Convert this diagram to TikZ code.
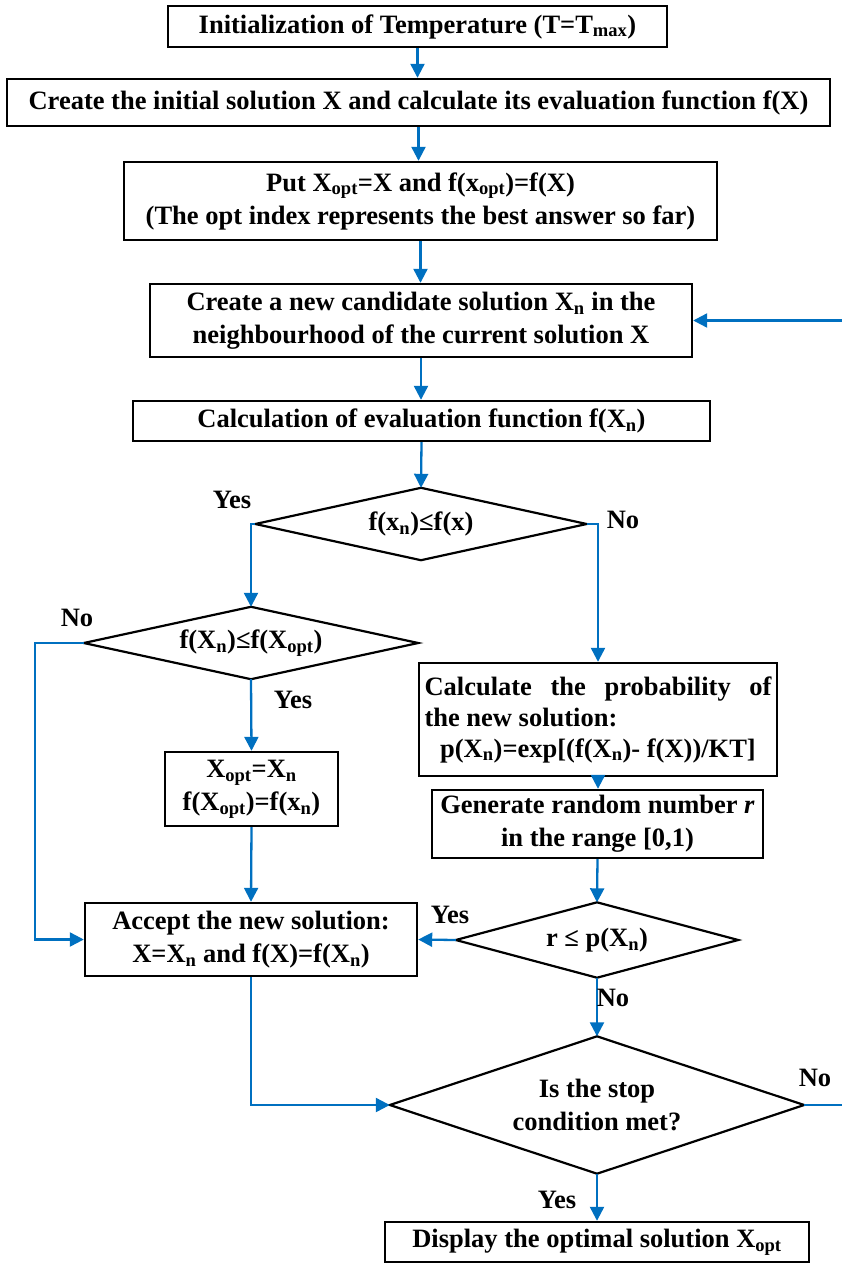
\documentclass[tikz,border=0pt]{standalone}
\usepackage{fontspec}
\setmainfont{Liberation Serif}
\usetikzlibrary{shapes.geometric,arrows.meta}
\definecolor{flow}{HTML}{0070C0}
\newcommand{\sbs}[1]{\textsubscript{#1}}
\tikzset{
  txt/.style={font=\bfseries\fontsize{26.5}{33}\selectfont, align=center},
  box/.style={txt, draw=black, line width=2.4pt, inner sep=0pt},
  diabox/.style={txt, inner sep=0pt},
  diaedge/.style={draw=black, line width=2.2pt, line join=miter},
  arr/.style={draw=flow, line width=2.3pt, -{Triangle[length=14pt,width=14pt]}},
  lbl/.style={font=\bfseries\fontsize{26.5}{30}\selectfont, inner sep=0pt}
}
\begin{document}
\begin{tikzpicture}[x=1pt,y=-1pt]
\useasboundingbox (0,0) rectangle (842,1264);
\clip (0,0) rectangle (842,1264);
\node[box, minimum width=499pt, minimum height=41pt] (b1) at (417.5,26.5) {Initialization of Temperature (T=T\sbs{max})};
\node[box, minimum width=823pt, minimum height=47pt] (b2) at (418.5,102.5) {Create the initial solution X and calculate its evaluation function f(X)};
\node[box, minimum width=593pt, minimum height=78pt] (b3) at (420.5,201) {Put X\sbs{opt}=X and f(x\sbs{opt})=f(X)\\(The opt index represents the best answer so far)};
\node[box, minimum width=542pt, minimum height=73pt] (b4) at (421,320.5) {Create a new candidate solution X\sbs{n} in the\\neighbourhood of the current solution X};
\node[box, minimum width=577pt, minimum height=40pt] (b5) at (421.5,421) {Calculation of evaluation function f(X\sbs{n})};
\node[diabox, minimum width=331pt, minimum height=72pt] (d1) at (421,524) {f(x\sbs{n})≤f(x)};
\node[diabox, minimum width=334pt, minimum height=72pt] (d2) at (251,643) {f(X\sbs{n})≤f(X\sbs{opt})};
\node[box, minimum width=173pt, minimum height=74pt] (bopt) at (251.5,789) {X\sbs{opt}=X\sbs{n}\\f(X\sbs{opt})=f(x\sbs{n})};
\node[box, minimum width=332pt, minimum height=73pt] (bacc) at (251,939.5) {Accept the new solution:\\X=X\sbs{n} and f(X)=f(X\sbs{n})};
\node[box, minimum width=358pt, minimum height=113pt, align=left] (bcalc) at (598,719.5) {\parbox{347pt}{\fontsize{26.5}{31}\selectfont Calculate\hfill the\hfill probability\hfill of\\the new solution:\\\makebox[347pt]{p(X\sbs{n})=exp[(f(X\sbs{n})- f(X))/KT]}}};
\node[box, minimum width=331pt, minimum height=68pt] (bgen) at (597.5,824) {Generate random number \textit{r}\\in the range [0,1)};
\node[diabox, minimum width=282pt, minimum height=75pt] (d3) at (597,940) {r ≤ p(X\sbs{n})};
\node[diabox, minimum width=414pt, minimum height=137pt] (d4) at (597,1105) {Is the stop\\condition met?};
\node[box, minimum width=424pt, minimum height=40pt] (bdisp) at (597,1242) {Display the optimal solution X\sbs{opt}};
\foreach \d in {d1,d2,d3,d4}
  \draw[diaedge] (\d.north) -- (\d.east) -- (\d.south) -- (\d.west) -- cycle;
\coordinate (cl) at (35,643);
\coordinate (cr) at (848,1105);
\path[arr] (b1.south) -- (b1.south |- b2.north);
\path[arr] (b2.south) -- (b2.south |- b3.north);
\path[arr] (b3.south) -- (b3.south |- b4.north);
\path[arr] (b4.south) -- (b4.south |- b5.north);
\path[arr] (b5.south) -- (d1.north);
\path[arr] (d1.west) -| (d2.north);
\path[arr] (d1.east) -| (bcalc.north);
\path[arr] (d2.west) -- (cl) |- (bacc.west);
\path[arr] (d2.south) -- (bopt.north);
\path[arr] (bopt.south) -- (bacc.north);
\path[arr] (bcalc.south) -- (bcalc.south |- bgen.north);
\path[arr] (bgen.south) -- (d3.north);
\path[arr] (d3.west) -- (bacc.east);
\path[arr] (d3.south) -- (d4.north);
\path[arr] (bacc.south) |- (d4.west);
\path[arr] (d4.east) -- (cr) |- (b4.east);
\path[arr] (d4.south) -- (bdisp.north);
\node[lbl] (y1) at (232,500) {Yes};
\node[lbl] (n1) at (623,520) {No};
\node[lbl] (n2) at (77,618) {No};
\node[lbl] (y2) at (293,700) {Yes};
\node[lbl] (y3) at (450,915) {Yes};
\node[lbl] (n3) at (613,998) {No};
\node[lbl] (n4) at (815,1078) {No};
\node[lbl] (y4) at (557,1200) {Yes};
\end{tikzpicture}
\end{document}
